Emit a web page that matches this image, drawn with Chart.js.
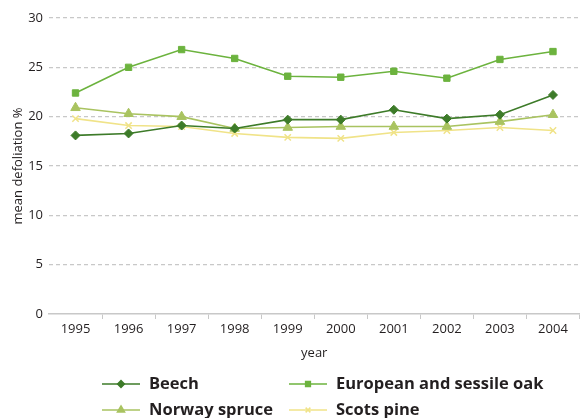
<!DOCTYPE html>
<html>
<head>
<meta charset="utf-8">
<style>
html,body{margin:0;padding:0;background:#fff;}
canvas{display:block;}
</style>
<script src="https://cdn.jsdelivr.net/npm/chart.js@4/dist/chart.umd.min.js"></script>
</head>
<body>
<canvas id="c" width="586" height="418"></canvas>
<script>
const years = ["1995","1996","1997","1998","1999","2000","2001","2002","2003","2004"];
const beech = [18.1, 18.3, 19.1, 18.8, 19.7, 19.7, 20.7, 19.8, 20.2, 22.2];
const oak = [22.4, 25.0, 26.8, 25.9, 24.1, 24.0, 24.6, 23.9, 25.8, 26.6];
const spruce = [20.9, 20.3, 20.0, 18.8, 18.9, 19.0, 19.0, 19.0, 19.5, 20.2];
const pine = [19.8, 19.1, 19.0, 18.3, 17.9, 17.8, 18.4, 18.6, 18.9, 18.6];
const seriesNames = ["Beech", "European and sessile oak", "Norway spruce", "Scots pine"];
const yTicks = [0, 5, 10, 15, 20, 25, 30];

const FONT = "'Open Sans', 'Noto Sans', sans-serif";
const TXT = '#231f20';

const legendPlugin = {
  id: 'customLegend',
  afterDraw(chart) {
    const ctx = chart.ctx;
    const pos = [[102, 384], [289, 384], [102, 410], [289, 410]];
    chart.data.datasets.forEach((ds, i) => {
      const [x, y] = pos[i];
      ctx.save();
      ctx.strokeStyle = ds.borderColor;
      ctx.fillStyle = ds.borderColor;
      ctx.lineWidth = 1.5;
      ctx.beginPath();
      ctx.moveTo(x, y);
      ctx.lineTo(x + 38, y);
      ctx.stroke();
      Chart.helpers.drawPoint(ctx, {
        pointStyle: ds.pointStyle,
        radius: ds.pointRadius * 0.75,
        borderWidth: ds.pointStyle === 'crossRot' ? 1.5 : 1
      }, x + 19, y);
      ctx.fillStyle = TXT;
      ctx.font = "bold 16.5px " + FONT;
      ctx.textBaseline = 'middle';
      ctx.textAlign = 'left';
      ctx.fillText(ds.label, x + 47, y);
      ctx.restore();
    });
  }
};

function mk(label, data, color, style, r) {
  return {
    label, data,
    borderColor: color, backgroundColor: color,
    pointBackgroundColor: color, pointBorderColor: color,
    borderWidth: 1.6, pointStyle: style, pointRadius: r,
    pointBorderWidth: style === 'crossRot' ? 1.5 : 1,
    tension: 0, fill: false
  };
}

new Chart(document.getElementById('c'), {
  type: 'line',
  data: {
    labels: years,
    datasets: [
      mk(seriesNames[0], beech, '#3d7b29', 'rectRot', 4.5),
      mk(seriesNames[1], oak, '#6cb33e', 'rect', 4.5),
      mk(seriesNames[2], spruce, '#a9c360', 'triangle', 5.5),
      mk(seriesNames[3], pine, '#f0e388', 'crossRot', 4.5)
    ]
  },
  options: {
    responsive: false,
    animation: false,
    layout: { padding: { top: 18, right: 0, left: 0, bottom: 44 } },
    plugins: { legend: { display: false }, tooltip: { enabled: false } },
    scales: {
      x: {
        offset: true,
        grid: {
          offset: true,
          drawOnChartArea: false,
          drawTicks: true,
          tickLength: 5,
          color: (c) => (c.index === 0 || c.index === years.length) ? 'rgba(0,0,0,0)' : '#c8c8c8',
          lineWidth: 1
        },
        border: { display: true, color: '#c8c8c8', width: 1.5 },
        ticks: { color: TXT, font: { family: FONT, size: 13 }, padding: 2, maxRotation: 0 },
        title: { display: true, text: 'year', color: TXT, font: { family: FONT, size: 13 }, padding: { top: 0, bottom: 13 } },
        afterFit: (s) => { s.height = 60; }
      },
      y: {
        min: 0, max: 30,
        afterBuildTicks: (s) => { s.ticks = yTicks.map(v => ({ value: v })); },
        grid: {
          color: (c) => c.tick && c.tick.value === 0 ? 'rgba(0,0,0,0)' : '#c8c8c8',
          lineWidth: 1.2,
          drawTicks: false
        },
        border: { display: false, dash: [4, 3] },
        ticks: { color: TXT, font: { family: FONT, size: 13 }, padding: 6 },
        title: { display: true, text: 'mean defoliation %', color: TXT, font: { family: FONT, size: 13 }, padding: { top: 10, bottom: 0 } },
        afterFit: (s) => { s.width = 49; }
      }
    }
  },
  plugins: [legendPlugin]
});
</script>
</body>
</html>
